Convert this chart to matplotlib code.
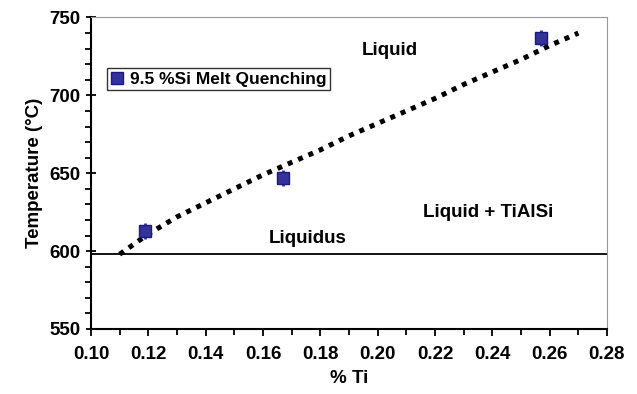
import matplotlib
matplotlib.use("Agg")
import matplotlib.pyplot as plt
from matplotlib.lines import Line2D
from matplotlib.ticker import MultipleLocator, FormatStrFormatter

plt.rcParams['font.family'] = ['Liberation Sans', 'DejaVu Sans']
plt.rcParams['font.weight'] = 'bold'

# measured points (melt quenching)
ti_pts = [0.119, 0.167, 0.257]
temp_pts = [613, 647, 737]
temp_err = [5, 5, 5]

# trend line
ti_fit = [0.11, 0.12, 0.13, 0.14, 0.15, 0.16, 0.17, 0.18, 0.19,
          0.20, 0.21, 0.22, 0.23, 0.24, 0.25, 0.26, 0.27]
temp_fit = [598, 611, 622, 631, 640, 649, 657, 665, 674,
            682, 690, 698, 707, 715, 723, 732, 740]

liquidus_x = [0.10, 0.28]
liquidus_y = [598, 598]

fig = plt.figure(figsize=(6.37, 3.94), dpi=100)
ax = fig.add_axes([0.1429, 0.165, 0.81, 0.7906])

ax.plot(liquidus_x, liquidus_y, color='black', lw=1.3)
ax.plot(ti_fit, temp_fit, color='black', lw=3.6, linestyle=(0, (1, 1.25)),
        dash_capstyle='butt')
ax.errorbar(ti_pts, temp_pts, yerr=temp_err, fmt='s', ms=8.5,
            mfc='#333399', mec='#1a1a80', ecolor='#333399', elinewidth=2,
            capsize=0, zorder=5)

ax.text(0.2043, 729, 'Liquid', fontsize=13.5, fontweight='bold',
        ha='center', va='center')
ax.text(0.2158, 625, 'Liquid + TiAlSi', fontsize=13.5, fontweight='bold',
        ha='left', va='center')
ax.text(0.162, 608, 'Liquidus', fontsize=13.5, fontweight='bold',
        ha='left', va='center')

ax.set_xlim(0.10, 0.28)
ax.set_ylim(550, 750)
ax.xaxis.set_major_locator(MultipleLocator(0.02))
ax.xaxis.set_minor_locator(MultipleLocator(0.01))
ax.xaxis.set_major_formatter(FormatStrFormatter('%.2f'))
ax.yaxis.set_major_locator(MultipleLocator(50))
ax.yaxis.set_minor_locator(MultipleLocator(10))

ax.tick_params(axis='x', which='major', direction='out', length=5, width=1.3,
               labelsize=13.5, pad=7)
ax.tick_params(axis='x', which='minor', direction='out', length=4, width=1.3)
ax.tick_params(axis='y', which='major', direction='inout', length=7, width=1.3,
               labelsize=13.5, pad=4)
ax.tick_params(axis='y', which='minor', direction='out', length=4, width=1.3)
for lab in ax.get_xticklabels() + ax.get_yticklabels():
    lab.set_fontweight('bold')

ax.spines['left'].set_linewidth(1.5)
ax.spines['bottom'].set_linewidth(1.5)
ax.spines['top'].set_color('#999999')
ax.spines['right'].set_color('#999999')

ax.set_xlabel('% Ti', fontsize=13.5, fontweight='bold', labelpad=5)
ax.set_ylabel('Temperature (°C)', fontsize=13.5, fontweight='bold', labelpad=5)

handle = Line2D([], [], ls='none', marker='s', ms=8.5,
                mfc='#333399', mec='#1a1a80')
leg = ax.legend([handle], ['9.5 %Si Melt Quenching'], loc='upper left',
                bbox_to_anchor=(0.031, 0.838), frameon=True,
                fancybox=False, edgecolor='black', fontsize=12.5,
                handlelength=0.8, handletextpad=0.3, borderpad=0.2,
                borderaxespad=0)
leg.get_frame().set_linewidth(1.0)

fig.savefig('out.png', dpi=100)
